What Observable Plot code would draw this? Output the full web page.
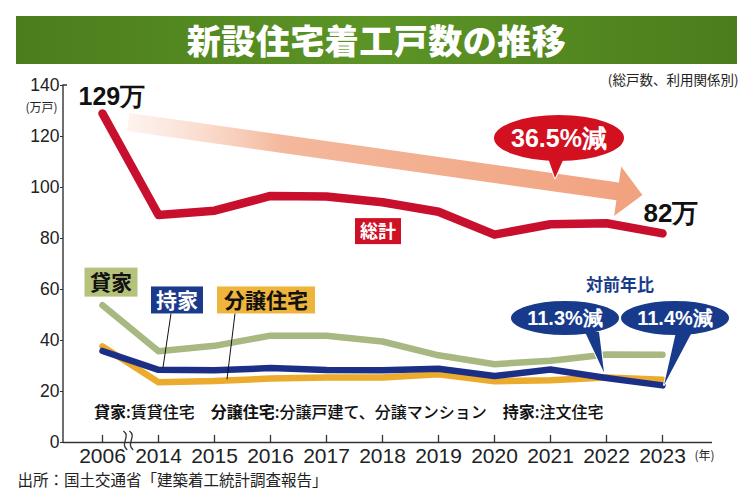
<!DOCTYPE html>
<html><head><meta charset="utf-8">
<script src="https://cdn.jsdelivr.net/npm/d3@7"></script>
<script src="https://cdn.jsdelivr.net/npm/@observablehq/plot@0.6"></script>
<style>
html,body{margin:0;padding:0;background:#fff;}
body{width:750px;height:499px;overflow:hidden;font-family:"Noto Sans CJK JP",sans-serif;}
#title{margin:16px 0 0 16px;width:721px;height:48px;
  background:linear-gradient(90deg,#4c7d1c 0%,#5c9426 50%,#4c7d1c 100%);
  color:#fff;font:900 34px/48px "Noto Sans CJK JP",sans-serif;text-align:center;letter-spacing:0.5px;}
#chart svg{display:block;overflow:visible;}
</style></head>
<body>
<div id="title">新設住宅着工戸数の推移</div>
<div id="chart"></div>
<script>
// ---- data (万戸) ----
const years   = ["2006","2014","2015","2016","2017","2018","2019","2020","2021","2022","2023"];
const total   = [129.0, 89.2, 90.9, 96.7, 96.5, 94.2, 90.5, 81.5, 85.6, 86.0, 82.0];
const rental  = [53.8, 35.8, 37.9, 41.9, 41.9, 39.6, 34.2, 30.7, 32.1, 34.5, 34.4];
const owned   = [35.9, 28.5, 28.3, 29.2, 28.4, 28.3, 28.9, 26.1, 28.6, 25.3, 22.4];
const forSale = [37.7, 23.6, 24.1, 25.1, 25.5, 25.5, 26.8, 24.0, 24.4, 25.5, 24.6];
const yTicks  = [0, 20, 40, 60, 80, 100, 120, 140];
const totalLabels = ["129万", "82万"];
const dropTotal = "36.5%減";
const dropOwned = ["11.3%減", "11.4%減"];

const NUM = "'Liberation Sans',Arial,sans-serif";
const JP = "'Noto Sans CJK JP',sans-serif";

const RED = "#c8102e", GREEN = "#a7b880", NAVY = "#1c2f86", ORANGE = "#ebab2c";

const series = (vals) => vals.map((v, i) => ({year: years[i], v}));

function annotate(index, scales, values, dims) {
  const {x, y} = scales;
  const step = x("2014") - x("2006");
  const g = d3.create("svg:g");
  g.append("path")
    .attr("d", `M${dims.marginLeft + 4},${y(140)}H${dims.marginLeft}V${y(0)}`)
    .attr("fill", "none").attr("stroke", "#333").attr("stroke-width", 1.4);
  const bx = x("2006") + 0.47 * step, by = y(0);
  for (const o of [-3, 3]) {
    g.append("path")
      .attr("d", `M${bx + o - 2},${by - 11} C${bx + o + 6},${by - 6} ${bx + o - 6},${by + 2} ${bx + o + 2},${by + 8}`)
      .attr("fill", "none").attr("stroke", "#333").attr("stroke-width", 1.3);
  }
  const ax1 = x("2006") + 0.47 * step, ay1 = y(125.5);
  const ax2 = x("2023") - 0.35 * step, ay2 = y(96.9);
  const L = Math.hypot(ax2 - ax1, ay2 - ay1), ux = (ax2 - ax1) / L, uy = (ay2 - ay1) / L;
  const nx = -uy, ny = ux, hs = 9, hh = 25, hl = 25;
  const bxx = ax2 - ux * hl, byy = ay2 - uy * hl;
  const P = (px, py) => `${px.toFixed(1)},${py.toFixed(1)}`;
  const grad = g.append("defs").append("linearGradient")
    .attr("id", "arrowGrad").attr("gradientUnits", "userSpaceOnUse")
    .attr("x1", ax1).attr("x2", ax2).attr("y1", 0).attr("y2", 0);
  grad.append("stop").attr("offset", 0).attr("stop-color", "#fbe6dc").attr("stop-opacity", 0.5);
  grad.append("stop").attr("offset", 0.3).attr("stop-color", "#f4b89c");
  grad.append("stop").attr("offset", 1).attr("stop-color", "#f1a27f");
  g.append("polygon").attr("fill", "url(#arrowGrad)").attr("points", [
    P(ax1 + nx * hs, ay1 + ny * hs), P(bxx + nx * hs, byy + ny * hs), P(bxx + nx * hh, byy + ny * hh),
    P(ax2, ay2), P(bxx - nx * hh, byy - ny * hh), P(bxx - nx * hs, byy - ny * hs), P(ax1 - nx * hs, ay1 - ny * hs)
  ].join(" "));
  return g.node();
}

function bubbles(index, scales) {
  const {x, y} = scales;
  const g = d3.create("svg:g");
  const bubble = (cx, cy, rx, ry, b1, b2, tx, ty, fill, stroke, label, fs) => {
    const tail = `M${b1},${cy + ry - 4} L${tx},${ty} L${b2},${cy + ry - 4} Z`;
    g.append("path").attr("d", tail).attr("fill", fill).attr("stroke", stroke).attr("stroke-width", 2).attr("stroke-linejoin", "round");
    g.append("ellipse").attr("cx", cx).attr("cy", cy).attr("rx", rx).attr("ry", ry)
      .attr("fill", fill).attr("stroke", stroke).attr("stroke-width", 2);
    g.append("path").attr("d", tail).attr("fill", fill);
    g.append("text").attr("x", cx).attr("y", cy).attr("dy", "0.36em").attr("text-anchor", "middle")
      .attr("fill", "#fff").attr("font-weight", 700).attr("font-size", fs)
      .attr("font-family", "Arial,'Liberation Sans',sans-serif").text(label);
  };
  const rc = x("2021") + 9;
  bubble(rc, y(119.2), 66, 24, rc - 11, rc + 5, x("2021") + 5, y(103.5), "#d3101f", "#fff", dropTotal, 25);
  const n1 = x("2021") + 15, n2 = x("2023") + 13;
  bubble(n1, y(48.6), 55, 18, n1 + 20, n1 + 34, x("2022") - 2, y(owned[9]) - 5, "#183a8b", "#fff", dropOwned[0], 20);
  bubble(n2, y(48.6), 55, 18, n2 + 1, n2 + 17, x("2023") + 2, y(owned[10]), "#183a8b", "#fff", dropOwned[1], 20);
  g.append("text").attr("x", x("2022") + 14).attr("y", y(61.5)).attr("dy", "0.36em").attr("text-anchor", "middle")
    .attr("fill", "#183a8b").attr("font-weight", 700).attr("font-size", 17).attr("font-family", JP).text("対前年比");
  return g.node();
}

function labelBoxes(index, scales) {
  const {x, y} = scales;
  const g = d3.create("svg:g");
  g.append("line").attr("x1", x("2014") + 13).attr("y1", y(50.4)).attr("x2", x("2014") + 5).attr("y2", y(29.2))
    .attr("stroke", "#111").attr("stroke-width", 1);
  g.append("line").attr("x1", x("2016") - 35).attr("y1", y(50.4)).attr("x2", x("2016") - 43).attr("y2", y(24.6))
    .attr("stroke", "#111").attr("stroke-width", 1);
  const box = (cx, cy, w, h, fill, color, label, fs) => {
    g.append("rect").attr("x", cx - w / 2).attr("y", cy - h / 2).attr("width", w).attr("height", h).attr("fill", fill);
    g.append("text").attr("x", cx).attr("y", cy).attr("dy", "0.36em").attr("text-anchor", "middle")
      .attr("fill", color).attr("font-weight", 700).attr("font-size", fs).attr("font-family", JP).text(label);
  };
  box(x("2006") + 9, y(62.7), 53, 29, "#b4c27b", "#111", "貸家", 21);
  box(x("2014") + 19, y(55.7), 52, 27, "#1b3a8c", "#fff", "持家", 21);
  box(x("2016") - 4, y(55.7), 98, 27, "#efb43c", "#111", "分譲住宅", 21);
  box(x("2018") - 4, y(82.7), 46, 26, "#cf1126", "#fff", "総計", 18);
  const t = g.append("text").attr("x", x("2006") - 8).attr("y", y(11.7)).attr("dy", "0.36em")
    .attr("text-anchor", "start")
    .attr("font-family", JP).attr("font-size", 16).attr("fill", "#111");
  const parts = [["貸家", 700], [":賃貸住宅　", 500], ["分譲住宅", 700], [":分譲戸建て、分譲マンション　", 500], ["持家", 700], [":注文住宅", 500]];
  for (const [s, w] of parts) t.append("tspan").attr("font-weight", w).text(s);
  return g.node();
}

const chart = Plot.plot({
  width: 750, height: 435,
  marginTop: 21, marginBottom: 57, marginLeft: 63, marginRight: 38,
  style: {fontFamily: NUM, background: "transparent", color: "#222", overflow: "visible"},
  x: {type: "point", domain: years, padding: 0, insetLeft: 35, insetRight: 46},
  y: {domain: [0, 140]},
  marks: [
    annotate,
    Plot.ruleY([0], {stroke: "#333", strokeWidth: 1.4}),
    Plot.ruleX(years, {x: d => d, y1: 0, y2: 2.8, stroke: "#333", strokeWidth: 1.3}),
    Plot.axisY({ticks: yTicks, tickSize: 3, tickPadding: 1, fontSize: 17.5, label: null, stroke: "#333", fill: "#222", ariaLabel: "y-axis"}),
    Plot.axisX({tickSize: 0, tickPadding: 6, fontSize: 21, label: null, fill: "#222", ariaLabel: "x-axis"}),
    Plot.text(["(万戸)"], {frameAnchor: "top-left", dx: -22, dy: 18, textAnchor: "middle", fontSize: 12, fontFamily: JP, fill: "#222"}),
    Plot.text(["(年)"], {frameAnchor: "bottom-right", dx: -8, dy: 17, textAnchor: "middle", fontSize: 12, fontFamily: JP, fill: "#222"}),
    Plot.text(["(総戸数、利用関係別)"], {frameAnchor: "top-right", dx: 26, dy: -10, textAnchor: "end", fontSize: 13.5, fontFamily: JP, fill: "#222"}),
    Plot.text(["出所：国土交通省「建築着工統計調査報告」"], {frameAnchor: "bottom-left", dx: -46, dy: 43, textAnchor: "start", fontSize: 15.5, fontFamily: JP, fill: "#222"}),
    Plot.line(series(rental), {x: "year", y: "v", stroke: GREEN, strokeWidth: 6.5, strokeLinecap: "round"}),
    Plot.line(series(forSale), {x: "year", y: "v", stroke: ORANGE, strokeWidth: 6.5, strokeLinecap: "round"}),
    Plot.line(series(owned), {x: "year", y: "v", stroke: NAVY, strokeWidth: 6.5, strokeLinecap: "round"}),
    Plot.line(series(total), {x: "year", y: "v", stroke: RED, strokeWidth: 8.5, strokeLinecap: "round"}),
    labelBoxes,
    bubbles,
    Plot.text([0], {x: () => years[0], y: () => total[0], text: () => totalLabels[0], dx: -24, dy: -17, textAnchor: "start",
      fontSize: 25, fontWeight: 700, fontFamily: "Arial,'Liberation Sans',sans-serif", fill: "#111"}),
    Plot.text([0], {x: () => years[10], y: () => total[10], text: () => totalLabels[1], dx: -19, dy: -20, textAnchor: "start",
      fontSize: 26, fontWeight: 700, fontFamily: "Arial,'Liberation Sans',sans-serif", fill: "#111"})
  ]
});
// condense the numeric tick labels like the reference's narrow face
d3.select(chart).selectAll('g[aria-label="x-axis"] text, g[aria-label="y-axis"] text').each(function () {
  const tr = this.getAttribute("transform") || "";
  this.setAttribute("transform", tr + " scale(0.86,1)");
});
document.getElementById("chart").appendChild(chart);
</script>
</body></html>
